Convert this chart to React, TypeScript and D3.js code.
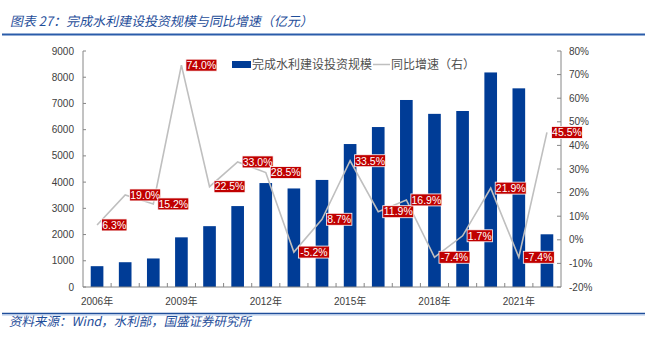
import React from "react";
import * as d3 from "d3";

const years = ["2006","2007","2008","2009","2010","2011","2012","2013","2014","2015","2016","2017","2018","2019","2020","2021","2022"];
const invest = [794, 945, 1088, 1894, 2320, 3086, 3964, 3758, 4083, 5452, 6100, 7132, 6603, 6712, 8182, 7576, 2010];
const growth = [6.3, 19.0, 15.2, 74.0, 22.5, 33.0, 28.5, -5.2, 8.7, 33.5, 11.9, 16.9, -7.4, 1.7, 21.9, -7.4, 45.5];
const leftTicks = [0,1000,2000,3000,4000,5000,6000,7000,8000,9000];
const rightTicks = [-20,-10,0,10,20,30,40,50,60,70,80];
const xLabelYears = ["2006","2009","2012","2015","2018","2021"];

const title = "图表 27：完成水利建设投资规模与同比增速（亿元）";
const source = "资料来源：Wind，水利部，国盛证券研究所";
const legendBar = "完成水利建设投资规模";
const legendLine = "同比增速（右）";

export default function App() {
  const W = 654, H = 345;
  const left = 83, right = 561, top = 51, bottom = 287;
  const x = d3.scaleBand().domain(years).range([left, right]).paddingInner(0.55).paddingOuter(0.275);
  const xb = d3.scaleBand().domain(years).range([left, right]);
  const yL = d3.scaleLinear().domain([0, 9000]).range([bottom, top]);
  const yR = d3.scaleLinear().domain([-20, 80]).range([bottom, top]);
  const cx = (y: string) => xb(y)! + xb.bandwidth() / 2;
  const line = d3.line<number>().x((_, i) => cx(years[i])).y((d) => yR(d));
  const axisFont = "'Liberation Sans', Arial, sans-serif";
  const cjk = "'Noto Sans CJK SC', sans-serif";
  const axisColor = "#868686";
  const textColor = "#404040";
  return (
    <svg width={W} height={H} style={{ position: "absolute", left: 0, top: 0, background: "#fff" }}>
      <text x={10} y={26} fontFamily={cjk} fontSize={13} fill="#1f4e9a" style={{ transform: "skewX(-12deg)", transformOrigin: "10px 26px" }}>{title}</text>
      <line x1={2} x2={645} y1={34.5} y2={34.5} stroke="#2a5caa" strokeWidth={2} />

      {invest.map((v, i) => (
        <rect key={i} x={x(years[i])} y={yL(v)} width={x.bandwidth()} height={bottom - yL(v)} fill="#003C96" />
      ))}

      {/* axes */}
      <line x1={left} x2={left} y1={top} y2={bottom} stroke={axisColor} />
      <line x1={right} x2={right} y1={top} y2={bottom} stroke={axisColor} />
      <line x1={left} x2={right} y1={bottom} y2={bottom} stroke={axisColor} />
      {leftTicks.map((t) => (
        <g key={"l" + t}>
          <line x1={left} x2={left + 3} y1={yL(t)} y2={yL(t)} stroke={axisColor} />
          <text x={74} y={yL(t)} dy="0.35em" textAnchor="end" fontFamily={axisFont} fontSize={10} fill={textColor}>{t}</text>
        </g>
      ))}
      {rightTicks.map((t) => (
        <g key={"r" + t}>
          <line x1={right - 4} x2={right} y1={yR(t)} y2={yR(t)} stroke={axisColor} />
          <text x={569} y={yR(t)} dy="0.35em" textAnchor="start" fontFamily={axisFont} fontSize={10} fill={textColor}>{t + "%"}</text>
        </g>
      ))}
      {years.slice(1).map((yv) => (
        <line key={"xt" + yv} x1={xb(yv)} x2={xb(yv)} y1={bottom - 4} y2={bottom} stroke={axisColor} />
      ))}
      {xLabelYears.map((yv) => (
        <text key={"xl" + yv} x={cx(yv)} y={301} dy="0.35em" textAnchor="middle" fontFamily={axisFont} fontSize={10} fill={textColor}>
          {yv}<tspan fontFamily={cjk}>年</tspan>
        </text>
      ))}

      <path d={line(growth) || ""} fill="none" stroke="#BFBFBF" strokeWidth={1.6} />

      {growth.map((g, i) => {
        const px = cx(years[i]) + 4.5;
        const py = yR(g);
        const label = g.toFixed(1) + "%";
        const w = label.length * 5.6 + 3;
        return (
          <g key={"lab" + i}>
            <rect x={px} y={py - 6} width={w} height={12} fill="#C00000" stroke="#fff" strokeWidth={0.8} />
            <text x={px + w / 2} y={py} dy="0.36em" textAnchor="middle" fontFamily={axisFont} fontSize={10.5} fill="#fff">{label}</text>
          </g>
        );
      })}

      {/* legend */}
      <rect x={232} y={61} width={19} height={7} fill="#003C96" />
      <text x={252} y={64.5} dy="0.35em" fontFamily={cjk} fontSize={12} fill="#505050">{legendBar}</text>
      <line x1={373} x2={390} y1={64.5} y2={64.5} stroke="#BFBFBF" strokeWidth={1.5} />
      <text x={391} y={64.5} dy="0.35em" fontFamily={cjk} fontSize={12} fill="#505050">{legendLine}</text>

      <line x1={2} x2={645} y1={313.5} y2={313.5} stroke="#1f4e9a" strokeWidth={1.5} />
      <line x1={2} x2={645} y1={315} y2={315} stroke="#a9c1e6" strokeWidth={1} />
      <text x={10} y={322} dy="0.35em" fontFamily={cjk} fontSize={12.5} fill="#1f4e9a" style={{ transform: "skewX(-12deg)", transformOrigin: "10px 322px" }}>{source}</text>
    </svg>
  );
}
